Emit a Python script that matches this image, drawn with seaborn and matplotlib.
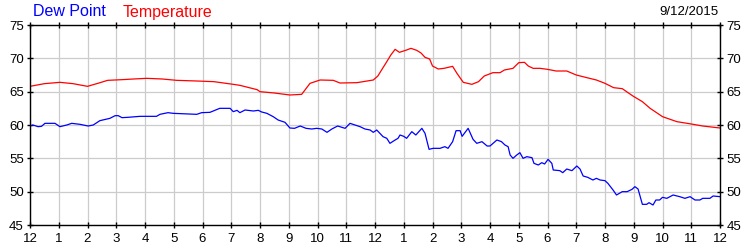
import matplotlib
matplotlib.use("Agg")
import matplotlib.pyplot as plt
import seaborn as sns
import pandas as pd

# Hours since midnight and readings
temp_hours = [0.0, 0.5, 1.04, 1.5, 2.0, 2.4, 2.7, 3.2, 3.6, 4.06, 4.6, 5.1, 5.8, 6.4, 7.07, 7.3, 7.9, 8.0,
              8.5, 9.04, 9.45, 9.74, 10.09, 10.55, 10.78, 11.37, 11.94, 12.1, 12.25, 12.41, 12.55, 12.7,
              12.85, 13.1, 13.25, 13.45, 13.6, 13.74, 13.9, 14.0, 14.2, 14.4, 14.7, 14.85, 15.07, 15.37,
              15.6, 15.8, 16.1, 16.35, 16.5, 16.8, 17.0, 17.2, 17.33, 17.5, 17.74, 18.0, 18.3, 18.67,
              19.0, 19.37, 19.7, 20.0, 20.3, 20.6, 20.97, 21.3, 21.57, 22.0, 22.5, 23.0, 23.4, 24.0]
temp_values = [65.8, 66.2, 66.4, 66.2, 65.8, 66.3, 66.7, 66.8, 66.9, 67.0, 66.9, 66.7, 66.6, 66.5, 66.1, 65.95,
               65.3, 65.0, 64.8, 64.5, 64.6, 66.25, 66.75, 66.7, 66.3, 66.35, 66.75, 67.35, 68.4, 69.5, 70.5,
               71.35, 70.9, 71.25, 71.5, 71.2, 70.8, 70.15, 69.9, 68.85, 68.4, 68.5, 68.8, 67.75, 66.4, 66.1,
               66.5, 67.35, 67.85, 67.85, 68.25, 68.5, 69.35, 69.4, 68.85, 68.5, 68.5, 68.35, 68.1, 68.1,
               67.5, 67.1, 66.75, 66.25, 65.6, 65.45, 64.35, 63.5, 62.5, 61.25, 60.5, 60.15, 59.85, 59.55]

dew_hours = [0.0, 0.1, 0.28, 0.4, 0.52, 0.87, 1.04, 1.28, 1.45, 1.74, 2.02, 2.2, 2.43, 2.78, 2.96, 3.07, 3.2,
             3.4, 3.83, 4.4, 4.52, 4.8, 4.98, 5.8, 5.97, 6.26, 6.6, 6.96, 7.07, 7.2, 7.3, 7.48, 7.77, 7.94,
             8.06, 8.24, 8.46, 8.63, 8.87, 9.04, 9.2, 9.4, 9.6, 9.8, 9.97, 10.15, 10.33, 10.5, 10.7, 10.96,
             11.13, 11.3, 11.48, 11.65, 11.83, 11.94, 12.06, 12.28, 12.41, 12.52, 12.7, 12.8, 12.87, 13.0,
             13.1, 13.28, 13.42, 13.63, 13.74, 13.88, 14.02, 14.26, 14.43, 14.54, 14.7, 14.82, 14.96, 15.03,
             15.24, 15.41, 15.54, 15.72, 15.9, 16.0, 16.24, 16.4, 16.52, 16.63, 16.7, 16.8, 16.93, 17.04,
             17.15, 17.28, 17.46, 17.53, 17.68, 17.8, 17.9, 18.02, 18.15, 18.2, 18.43, 18.53, 18.67, 18.85,
             19.02, 19.13, 19.24, 19.4, 19.58, 19.7, 19.83, 20.0, 20.1, 20.28, 20.4, 20.6, 20.77, 20.94,
             21.04, 21.15, 21.3, 21.45, 21.53, 21.67, 21.77, 21.9, 22.0, 22.15, 22.37, 22.6, 22.78, 22.96,
             23.13, 23.3, 23.4, 23.65, 23.76, 24.0]
dew_values = [59.85, 60.0, 59.75, 59.8, 60.25, 60.25, 59.75, 60.0, 60.25, 60.1, 59.85, 60.0, 60.65, 61.0, 61.4,
              61.4, 61.1, 61.15, 61.3, 61.3, 61.6, 61.85, 61.75, 61.6, 61.85, 61.9, 62.5, 62.5, 62.0, 62.2,
              61.85, 62.25, 62.1, 62.2, 61.95, 61.75, 61.25, 60.75, 60.4, 59.55, 59.5, 59.85, 59.5, 59.4,
              59.5, 59.4, 58.9, 59.4, 59.85, 59.5, 60.25, 60.0, 59.75, 59.4, 59.25, 58.9, 59.25, 58.25, 58.0,
              57.25, 57.75, 58.0, 58.5, 58.3, 58.0, 59.0, 58.5, 59.5, 58.75, 56.35, 56.5, 56.5, 56.75, 56.5,
              57.5, 59.15, 59.15, 58.3, 59.5, 57.85, 57.25, 57.5, 56.85, 56.85, 57.75, 57.5, 57.0, 56.75,
              55.5, 55.0, 55.5, 55.85, 55.0, 55.25, 55.1, 54.25, 54.0, 54.35, 54.15, 54.85, 54.25, 53.25,
              53.15, 52.85, 53.4, 53.15, 53.85, 53.4, 52.35, 52.15, 51.75, 52.0, 51.75, 51.65, 51.25, 50.25,
              49.5, 50.0, 50.0, 50.35, 50.75, 50.4, 48.1, 48.1, 48.35, 48.0, 48.75, 48.75, 49.15, 49.0, 49.5,
              49.25, 49.0, 49.25, 48.75, 48.75, 49.0, 49.0, 49.35, 49.25]

tick_labels = ["12", "1", "2", "3", "4", "5", "6", "7", "8", "9", "10", "11",
               "12", "1", "2", "3", "4", "5", "6", "7", "8", "9", "10", "11", "12"]
y_ticks = [45, 50, 55, 60, 65, 70, 75]
date_label = "9/12/2015"

sns.set_theme(style="white")
plt.rcParams['font.family'] = ['Liberation Sans', 'DejaVu Sans']

df_t = pd.DataFrame({"hour": temp_hours, "value": temp_values})
df_d = pd.DataFrame({"hour": dew_hours, "value": dew_values})

fig = plt.figure(figsize=(7.5, 2.5), dpi=100)
ax = fig.add_axes([30 / 750, 25 / 250, 690 / 750, 200 / 250])

sns.lineplot(data=df_t, x="hour", y="value", ax=ax, color="#ff0000", linewidth=0.9, estimator=None)
sns.lineplot(data=df_d, x="hour", y="value", ax=ax, color="#0000ff", linewidth=0.9, estimator=None)

ax.set_xlim(0, 24)
ax.set_ylim(45, 75)
ax.set_xticks(range(25))
ax.set_xticklabels(tick_labels, fontsize=9.5)
ax.set_yticks(y_ticks)
ax.set_yticklabels([str(v) for v in y_ticks], fontsize=9.5)
ax.set_xlabel("")
ax.set_ylabel("")
ax.grid(True, color="#cccccc", linewidth=0.9)
ax.set_axisbelow(True)
for s in ax.spines.values():
    s.set_color("black")
    s.set_linewidth(1.0)
ax.tick_params(axis="x", bottom=True, top=True, direction="inout", length=5, width=1, color="black",
               pad=3, labelcolor="black")
ax.tick_params(axis="y", left=True, right=True, labelleft=True, labelright=True, direction="inout",
               length=5, width=1, color="black", pad=2, labelcolor="black")

fig.text(33 / 750, 1 - 12 / 250, "Dew Point", color="#0000ff", fontsize=11.5, va="center", ha="left")
fig.text(123 / 750, 1 - 12 / 250, "Temperature", color="#ff0000", fontsize=11.5, va="center", ha="left")
fig.text(718 / 750, 1 - 12 / 250, date_label, color="black", fontsize=9.5, va="center", ha="right")

fig.savefig("out.png", dpi=100, facecolor="white")
